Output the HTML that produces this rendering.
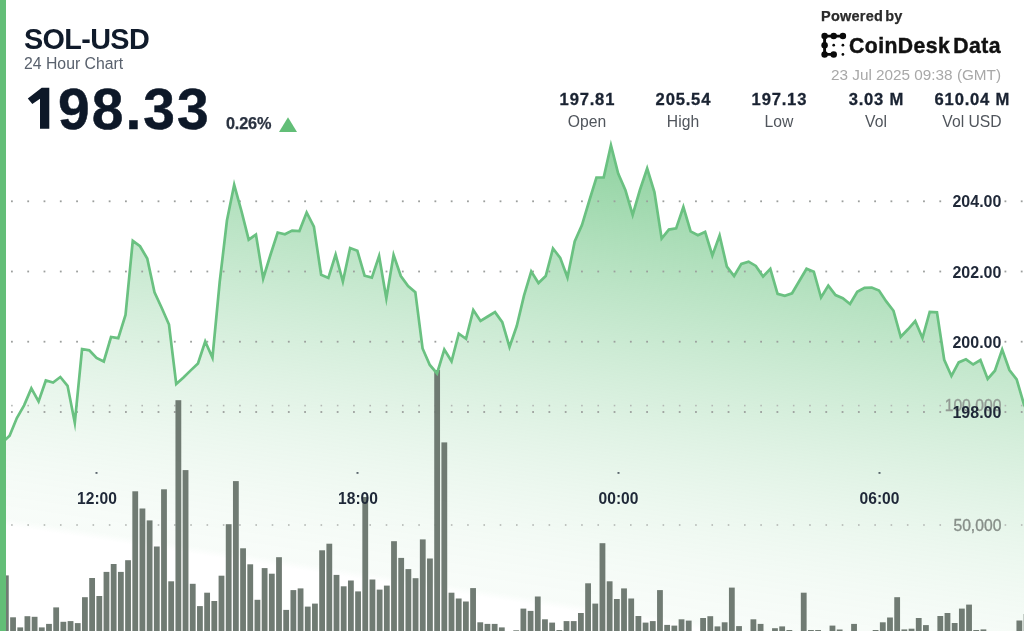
<!DOCTYPE html>
<html><head><meta charset="utf-8"><title>SOL-USD 24 Hour Chart</title>
<style>
html,body{margin:0;padding:0;background:#fff;}
body{width:1024px;height:631px;overflow:hidden;position:relative;font-family:"Liberation Sans",sans-serif;color:#101b2b;}
.abs{position:absolute;white-space:nowrap;line-height:1;will-change:transform;filter:blur(0.5px);}
#leftbar{filter:none;}
#leftbar{left:0;top:0;width:5.9px;height:631px;background:#63be77;}
#pair{left:23.8px;top:25.0px;font-size:28.8px;font-weight:bold;letter-spacing:-0.65px;}
#sub{left:23.7px;top:55.6px;font-size:15.8px;color:#59616d;}
#price{left:57.6px;top:80.5px;font-size:57px;font-weight:bold;letter-spacing:2.0px;color:#0d1828;-webkit-text-stroke:0.5px #0d1828;}
#chg{left:225.6px;top:114.9px;font-size:16.3px;font-weight:bold;color:#2a3240;letter-spacing:-0.2px;-webkit-text-stroke:0.25px #2a3240;}
#pow{left:820.7px;top:9px;font-size:14.5px;font-weight:bold;color:#2b2b2b;letter-spacing:0.25px;word-spacing:-2.3px;-webkit-text-stroke:0.25px #2b2b2b;}
#brand{left:849.3px;top:34.7px;font-size:21.2px;font-weight:bold;color:#111;letter-spacing:0.45px;-webkit-text-stroke:0.45px #111;}
#date{left:831px;top:67px;font-size:15.3px;color:#a8a8a8;}
.stat{width:120px;text-align:center;}
.stat b{display:block;font-size:16.6px;line-height:1;color:#1a2332;letter-spacing:0.8px;margin-right:-0.8px;-webkit-text-stroke:0.3px #1a2332;}
.stat span{display:block;font-size:15.7px;line-height:1;margin-top:5.5px;color:#50555c;}
svg{position:absolute;left:0;top:0;will-change:transform;}
svg text{font-family:"Liberation Sans",sans-serif;}
</style></head><body>
<svg width="1024" height="631" viewBox="0 0 1024 631">
<defs>
<linearGradient id="g" gradientUnits="userSpaceOnUse" x1="560" y1="140" x2="491.2" y2="598.7">
<stop offset="0.000" stop-color="#5fbf77" stop-opacity="0.700"/><stop offset="0.050" stop-color="#5fbf77" stop-opacity="0.648"/><stop offset="0.100" stop-color="#5fbf77" stop-opacity="0.598"/><stop offset="0.150" stop-color="#5fbf77" stop-opacity="0.550"/><stop offset="0.200" stop-color="#5fbf77" stop-opacity="0.503"/><stop offset="0.250" stop-color="#5fbf77" stop-opacity="0.458"/><stop offset="0.300" stop-color="#5fbf77" stop-opacity="0.415"/><stop offset="0.350" stop-color="#5fbf77" stop-opacity="0.374"/><stop offset="0.400" stop-color="#5fbf77" stop-opacity="0.334"/><stop offset="0.450" stop-color="#5fbf77" stop-opacity="0.297"/><stop offset="0.500" stop-color="#5fbf77" stop-opacity="0.261"/><stop offset="0.550" stop-color="#5fbf77" stop-opacity="0.228"/><stop offset="0.600" stop-color="#5fbf77" stop-opacity="0.196"/><stop offset="0.650" stop-color="#5fbf77" stop-opacity="0.167"/><stop offset="0.700" stop-color="#5fbf77" stop-opacity="0.140"/><stop offset="0.750" stop-color="#5fbf77" stop-opacity="0.116"/><stop offset="0.800" stop-color="#5fbf77" stop-opacity="0.095"/><stop offset="0.850" stop-color="#5fbf77" stop-opacity="0.076"/><stop offset="0.900" stop-color="#5fbf77" stop-opacity="0.061"/><stop offset="0.950" stop-color="#5fbf77" stop-opacity="0.050"/><stop offset="0.985" stop-color="#5fbf77" stop-opacity="0.045"/><stop offset="1" stop-color="#5fbf77" stop-opacity="0"/>
</linearGradient>
</defs>
<g style="filter:blur(0.55px)">
<path d="M2.35,442.60 L9.60,435.80 L16.84,418.00 L24.09,405.30 L31.34,388.40 L38.58,401.50 L45.83,380.50 L53.07,382.50 L60.32,377.00 L67.56,385.80 L74.80,422.80 L82.05,349.00 L89.30,350.30 L96.54,358.00 L103.78,361.50 L111.03,337.00 L118.27,338.20 L125.52,315.00 L132.77,240.80 L140.01,246.20 L147.25,258.50 L154.50,292.40 L161.75,308.00 L168.99,324.50 L176.23,384.00 L183.48,377.50 L190.72,370.40 L197.97,363.50 L205.22,341.50 L212.46,357.70 L219.70,282.00 L226.95,220.50 L234.19,184.80 L241.44,211.00 L248.69,239.70 L255.93,234.60 L263.18,278.50 L270.42,255.00 L277.67,232.50 L284.91,234.20 L292.16,230.60 L299.40,231.00 L306.65,212.50 L313.89,226.60 L321.14,274.80 L328.38,278.00 L335.62,254.50 L342.87,281.50 L350.12,248.00 L357.36,250.80 L364.61,275.70 L371.85,277.60 L379.10,256.00 L386.34,298.50 L393.59,255.00 L400.83,276.00 L408.08,286.00 L415.32,292.20 L422.57,348.50 L429.81,365.00 L437.06,373.50 L444.30,349.60 L451.55,361.30 L458.79,333.70 L466.04,338.80 L473.28,310.00 L480.53,321.00 L487.77,316.50 L495.02,312.10 L502.26,322.20 L509.51,347.00 L516.75,326.00 L524.00,295.60 L531.24,271.50 L538.49,283.00 L545.73,276.00 L552.98,248.50 L560.22,257.80 L567.47,277.50 L574.71,241.50 L581.96,225.10 L589.20,201.00 L596.45,177.50 L603.69,177.50 L610.94,145.20 L618.18,173.50 L625.43,190.30 L632.67,215.00 L639.92,190.00 L647.16,168.50 L654.41,192.10 L661.65,238.50 L668.89,229.60 L676.14,228.40 L683.38,207.00 L690.63,231.40 L697.88,235.20 L705.12,231.90 L712.37,255.50 L719.61,235.50 L726.86,266.60 L734.10,276.00 L741.35,263.90 L748.59,261.60 L755.84,265.90 L763.08,276.50 L770.33,268.80 L777.57,293.80 L784.82,295.80 L792.06,293.30 L799.31,281.00 L806.55,268.80 L813.80,271.70 L821.04,297.50 L828.29,285.60 L835.53,295.10 L842.78,298.20 L850.02,304.00 L857.26,291.80 L864.51,287.80 L871.75,287.50 L879.00,290.50 L886.25,301.40 L893.49,310.80 L900.74,336.80 L907.98,329.30 L915.23,321.00 L922.47,338.00 L929.72,312.00 L936.96,312.40 L944.21,359.80 L951.45,376.00 L958.70,362.40 L965.94,359.30 L973.19,364.50 L980.43,360.00 L987.68,379.00 L994.92,370.70 L1002.17,349.50 L1009.41,370.00 L1016.66,379.40 L1023.90,404.20 L1031.14,420.00 L1031.14,640 L2.35,640 Z" fill="url(#g)"/>
<g fill="#9c9f9d"><rect x="11.00" y="200.40" width="1.8" height="1.8"/><rect x="27.29" y="200.40" width="1.8" height="1.8"/><rect x="43.57" y="200.40" width="1.8" height="1.8"/><rect x="59.86" y="200.40" width="1.8" height="1.8"/><rect x="76.15" y="200.40" width="1.8" height="1.8"/><rect x="92.44" y="200.40" width="1.8" height="1.8"/><rect x="108.72" y="200.40" width="1.8" height="1.8"/><rect x="125.01" y="200.40" width="1.8" height="1.8"/><rect x="141.30" y="200.40" width="1.8" height="1.8"/><rect x="157.58" y="200.40" width="1.8" height="1.8"/><rect x="173.87" y="200.40" width="1.8" height="1.8"/><rect x="190.16" y="200.40" width="1.8" height="1.8"/><rect x="206.44" y="200.40" width="1.8" height="1.8"/><rect x="222.73" y="200.40" width="1.8" height="1.8"/><rect x="239.02" y="200.40" width="1.8" height="1.8"/><rect x="255.30" y="200.40" width="1.8" height="1.8"/><rect x="271.59" y="200.40" width="1.8" height="1.8"/><rect x="287.88" y="200.40" width="1.8" height="1.8"/><rect x="304.17" y="200.40" width="1.8" height="1.8"/><rect x="320.45" y="200.40" width="1.8" height="1.8"/><rect x="336.74" y="200.40" width="1.8" height="1.8"/><rect x="353.03" y="200.40" width="1.8" height="1.8"/><rect x="369.31" y="200.40" width="1.8" height="1.8"/><rect x="385.60" y="200.40" width="1.8" height="1.8"/><rect x="401.89" y="200.40" width="1.8" height="1.8"/><rect x="418.17" y="200.40" width="1.8" height="1.8"/><rect x="434.46" y="200.40" width="1.8" height="1.8"/><rect x="450.75" y="200.40" width="1.8" height="1.8"/><rect x="467.04" y="200.40" width="1.8" height="1.8"/><rect x="483.32" y="200.40" width="1.8" height="1.8"/><rect x="499.61" y="200.40" width="1.8" height="1.8"/><rect x="515.90" y="200.40" width="1.8" height="1.8"/><rect x="532.18" y="200.40" width="1.8" height="1.8"/><rect x="548.47" y="200.40" width="1.8" height="1.8"/><rect x="564.76" y="200.40" width="1.8" height="1.8"/><rect x="581.04" y="200.40" width="1.8" height="1.8"/><rect x="597.33" y="200.40" width="1.8" height="1.8"/><rect x="613.62" y="200.40" width="1.8" height="1.8"/><rect x="629.91" y="200.40" width="1.8" height="1.8"/><rect x="646.19" y="200.40" width="1.8" height="1.8"/><rect x="662.48" y="200.40" width="1.8" height="1.8"/><rect x="678.77" y="200.40" width="1.8" height="1.8"/><rect x="695.05" y="200.40" width="1.8" height="1.8"/><rect x="711.34" y="200.40" width="1.8" height="1.8"/><rect x="727.63" y="200.40" width="1.8" height="1.8"/><rect x="743.91" y="200.40" width="1.8" height="1.8"/><rect x="760.20" y="200.40" width="1.8" height="1.8"/><rect x="776.49" y="200.40" width="1.8" height="1.8"/><rect x="792.78" y="200.40" width="1.8" height="1.8"/><rect x="809.06" y="200.40" width="1.8" height="1.8"/><rect x="825.35" y="200.40" width="1.8" height="1.8"/><rect x="841.64" y="200.40" width="1.8" height="1.8"/><rect x="857.92" y="200.40" width="1.8" height="1.8"/><rect x="874.21" y="200.40" width="1.8" height="1.8"/><rect x="890.50" y="200.40" width="1.8" height="1.8"/><rect x="906.78" y="200.40" width="1.8" height="1.8"/><rect x="923.07" y="200.40" width="1.8" height="1.8"/><rect x="939.36" y="200.40" width="1.8" height="1.8"/><rect x="1004.51" y="200.40" width="1.8" height="1.8"/><rect x="1020.79" y="200.40" width="1.8" height="1.8"/></g><g fill="#9c9f9d"><rect x="11.00" y="270.60" width="1.8" height="1.8"/><rect x="27.29" y="270.60" width="1.8" height="1.8"/><rect x="43.57" y="270.60" width="1.8" height="1.8"/><rect x="59.86" y="270.60" width="1.8" height="1.8"/><rect x="76.15" y="270.60" width="1.8" height="1.8"/><rect x="92.44" y="270.60" width="1.8" height="1.8"/><rect x="108.72" y="270.60" width="1.8" height="1.8"/><rect x="125.01" y="270.60" width="1.8" height="1.8"/><rect x="141.30" y="270.60" width="1.8" height="1.8"/><rect x="157.58" y="270.60" width="1.8" height="1.8"/><rect x="173.87" y="270.60" width="1.8" height="1.8"/><rect x="190.16" y="270.60" width="1.8" height="1.8"/><rect x="206.44" y="270.60" width="1.8" height="1.8"/><rect x="222.73" y="270.60" width="1.8" height="1.8"/><rect x="239.02" y="270.60" width="1.8" height="1.8"/><rect x="255.30" y="270.60" width="1.8" height="1.8"/><rect x="271.59" y="270.60" width="1.8" height="1.8"/><rect x="287.88" y="270.60" width="1.8" height="1.8"/><rect x="304.17" y="270.60" width="1.8" height="1.8"/><rect x="320.45" y="270.60" width="1.8" height="1.8"/><rect x="336.74" y="270.60" width="1.8" height="1.8"/><rect x="353.03" y="270.60" width="1.8" height="1.8"/><rect x="369.31" y="270.60" width="1.8" height="1.8"/><rect x="385.60" y="270.60" width="1.8" height="1.8"/><rect x="401.89" y="270.60" width="1.8" height="1.8"/><rect x="418.17" y="270.60" width="1.8" height="1.8"/><rect x="434.46" y="270.60" width="1.8" height="1.8"/><rect x="450.75" y="270.60" width="1.8" height="1.8"/><rect x="467.04" y="270.60" width="1.8" height="1.8"/><rect x="483.32" y="270.60" width="1.8" height="1.8"/><rect x="499.61" y="270.60" width="1.8" height="1.8"/><rect x="515.90" y="270.60" width="1.8" height="1.8"/><rect x="532.18" y="270.60" width="1.8" height="1.8"/><rect x="548.47" y="270.60" width="1.8" height="1.8"/><rect x="564.76" y="270.60" width="1.8" height="1.8"/><rect x="581.04" y="270.60" width="1.8" height="1.8"/><rect x="597.33" y="270.60" width="1.8" height="1.8"/><rect x="613.62" y="270.60" width="1.8" height="1.8"/><rect x="629.91" y="270.60" width="1.8" height="1.8"/><rect x="646.19" y="270.60" width="1.8" height="1.8"/><rect x="662.48" y="270.60" width="1.8" height="1.8"/><rect x="678.77" y="270.60" width="1.8" height="1.8"/><rect x="695.05" y="270.60" width="1.8" height="1.8"/><rect x="711.34" y="270.60" width="1.8" height="1.8"/><rect x="727.63" y="270.60" width="1.8" height="1.8"/><rect x="743.91" y="270.60" width="1.8" height="1.8"/><rect x="760.20" y="270.60" width="1.8" height="1.8"/><rect x="776.49" y="270.60" width="1.8" height="1.8"/><rect x="792.78" y="270.60" width="1.8" height="1.8"/><rect x="809.06" y="270.60" width="1.8" height="1.8"/><rect x="825.35" y="270.60" width="1.8" height="1.8"/><rect x="841.64" y="270.60" width="1.8" height="1.8"/><rect x="857.92" y="270.60" width="1.8" height="1.8"/><rect x="874.21" y="270.60" width="1.8" height="1.8"/><rect x="890.50" y="270.60" width="1.8" height="1.8"/><rect x="906.78" y="270.60" width="1.8" height="1.8"/><rect x="923.07" y="270.60" width="1.8" height="1.8"/><rect x="939.36" y="270.60" width="1.8" height="1.8"/><rect x="1004.51" y="270.60" width="1.8" height="1.8"/><rect x="1020.79" y="270.60" width="1.8" height="1.8"/></g><g fill="#9c9f9d"><rect x="11.00" y="340.80" width="1.8" height="1.8"/><rect x="27.29" y="340.80" width="1.8" height="1.8"/><rect x="43.57" y="340.80" width="1.8" height="1.8"/><rect x="59.86" y="340.80" width="1.8" height="1.8"/><rect x="76.15" y="340.80" width="1.8" height="1.8"/><rect x="92.44" y="340.80" width="1.8" height="1.8"/><rect x="108.72" y="340.80" width="1.8" height="1.8"/><rect x="125.01" y="340.80" width="1.8" height="1.8"/><rect x="141.30" y="340.80" width="1.8" height="1.8"/><rect x="157.58" y="340.80" width="1.8" height="1.8"/><rect x="173.87" y="340.80" width="1.8" height="1.8"/><rect x="190.16" y="340.80" width="1.8" height="1.8"/><rect x="206.44" y="340.80" width="1.8" height="1.8"/><rect x="222.73" y="340.80" width="1.8" height="1.8"/><rect x="239.02" y="340.80" width="1.8" height="1.8"/><rect x="255.30" y="340.80" width="1.8" height="1.8"/><rect x="271.59" y="340.80" width="1.8" height="1.8"/><rect x="287.88" y="340.80" width="1.8" height="1.8"/><rect x="304.17" y="340.80" width="1.8" height="1.8"/><rect x="320.45" y="340.80" width="1.8" height="1.8"/><rect x="336.74" y="340.80" width="1.8" height="1.8"/><rect x="353.03" y="340.80" width="1.8" height="1.8"/><rect x="369.31" y="340.80" width="1.8" height="1.8"/><rect x="385.60" y="340.80" width="1.8" height="1.8"/><rect x="401.89" y="340.80" width="1.8" height="1.8"/><rect x="418.17" y="340.80" width="1.8" height="1.8"/><rect x="434.46" y="340.80" width="1.8" height="1.8"/><rect x="450.75" y="340.80" width="1.8" height="1.8"/><rect x="467.04" y="340.80" width="1.8" height="1.8"/><rect x="483.32" y="340.80" width="1.8" height="1.8"/><rect x="499.61" y="340.80" width="1.8" height="1.8"/><rect x="515.90" y="340.80" width="1.8" height="1.8"/><rect x="532.18" y="340.80" width="1.8" height="1.8"/><rect x="548.47" y="340.80" width="1.8" height="1.8"/><rect x="564.76" y="340.80" width="1.8" height="1.8"/><rect x="581.04" y="340.80" width="1.8" height="1.8"/><rect x="597.33" y="340.80" width="1.8" height="1.8"/><rect x="613.62" y="340.80" width="1.8" height="1.8"/><rect x="629.91" y="340.80" width="1.8" height="1.8"/><rect x="646.19" y="340.80" width="1.8" height="1.8"/><rect x="662.48" y="340.80" width="1.8" height="1.8"/><rect x="678.77" y="340.80" width="1.8" height="1.8"/><rect x="695.05" y="340.80" width="1.8" height="1.8"/><rect x="711.34" y="340.80" width="1.8" height="1.8"/><rect x="727.63" y="340.80" width="1.8" height="1.8"/><rect x="743.91" y="340.80" width="1.8" height="1.8"/><rect x="760.20" y="340.80" width="1.8" height="1.8"/><rect x="776.49" y="340.80" width="1.8" height="1.8"/><rect x="792.78" y="340.80" width="1.8" height="1.8"/><rect x="809.06" y="340.80" width="1.8" height="1.8"/><rect x="825.35" y="340.80" width="1.8" height="1.8"/><rect x="841.64" y="340.80" width="1.8" height="1.8"/><rect x="857.92" y="340.80" width="1.8" height="1.8"/><rect x="874.21" y="340.80" width="1.8" height="1.8"/><rect x="890.50" y="340.80" width="1.8" height="1.8"/><rect x="906.78" y="340.80" width="1.8" height="1.8"/><rect x="923.07" y="340.80" width="1.8" height="1.8"/><rect x="939.36" y="340.80" width="1.8" height="1.8"/><rect x="1004.51" y="340.80" width="1.8" height="1.8"/><rect x="1020.79" y="340.80" width="1.8" height="1.8"/></g><g fill="#9c9f9d"><rect x="11.00" y="411.10" width="1.8" height="1.8"/><rect x="27.29" y="411.10" width="1.8" height="1.8"/><rect x="43.57" y="411.10" width="1.8" height="1.8"/><rect x="59.86" y="411.10" width="1.8" height="1.8"/><rect x="76.15" y="411.10" width="1.8" height="1.8"/><rect x="92.44" y="411.10" width="1.8" height="1.8"/><rect x="108.72" y="411.10" width="1.8" height="1.8"/><rect x="125.01" y="411.10" width="1.8" height="1.8"/><rect x="141.30" y="411.10" width="1.8" height="1.8"/><rect x="157.58" y="411.10" width="1.8" height="1.8"/><rect x="173.87" y="411.10" width="1.8" height="1.8"/><rect x="190.16" y="411.10" width="1.8" height="1.8"/><rect x="206.44" y="411.10" width="1.8" height="1.8"/><rect x="222.73" y="411.10" width="1.8" height="1.8"/><rect x="239.02" y="411.10" width="1.8" height="1.8"/><rect x="255.30" y="411.10" width="1.8" height="1.8"/><rect x="271.59" y="411.10" width="1.8" height="1.8"/><rect x="287.88" y="411.10" width="1.8" height="1.8"/><rect x="304.17" y="411.10" width="1.8" height="1.8"/><rect x="320.45" y="411.10" width="1.8" height="1.8"/><rect x="336.74" y="411.10" width="1.8" height="1.8"/><rect x="353.03" y="411.10" width="1.8" height="1.8"/><rect x="369.31" y="411.10" width="1.8" height="1.8"/><rect x="385.60" y="411.10" width="1.8" height="1.8"/><rect x="401.89" y="411.10" width="1.8" height="1.8"/><rect x="418.17" y="411.10" width="1.8" height="1.8"/><rect x="434.46" y="411.10" width="1.8" height="1.8"/><rect x="450.75" y="411.10" width="1.8" height="1.8"/><rect x="467.04" y="411.10" width="1.8" height="1.8"/><rect x="483.32" y="411.10" width="1.8" height="1.8"/><rect x="499.61" y="411.10" width="1.8" height="1.8"/><rect x="515.90" y="411.10" width="1.8" height="1.8"/><rect x="532.18" y="411.10" width="1.8" height="1.8"/><rect x="548.47" y="411.10" width="1.8" height="1.8"/><rect x="564.76" y="411.10" width="1.8" height="1.8"/><rect x="581.04" y="411.10" width="1.8" height="1.8"/><rect x="597.33" y="411.10" width="1.8" height="1.8"/><rect x="613.62" y="411.10" width="1.8" height="1.8"/><rect x="629.91" y="411.10" width="1.8" height="1.8"/><rect x="646.19" y="411.10" width="1.8" height="1.8"/><rect x="662.48" y="411.10" width="1.8" height="1.8"/><rect x="678.77" y="411.10" width="1.8" height="1.8"/><rect x="695.05" y="411.10" width="1.8" height="1.8"/><rect x="711.34" y="411.10" width="1.8" height="1.8"/><rect x="727.63" y="411.10" width="1.8" height="1.8"/><rect x="743.91" y="411.10" width="1.8" height="1.8"/><rect x="760.20" y="411.10" width="1.8" height="1.8"/><rect x="776.49" y="411.10" width="1.8" height="1.8"/><rect x="792.78" y="411.10" width="1.8" height="1.8"/><rect x="809.06" y="411.10" width="1.8" height="1.8"/><rect x="825.35" y="411.10" width="1.8" height="1.8"/><rect x="841.64" y="411.10" width="1.8" height="1.8"/><rect x="857.92" y="411.10" width="1.8" height="1.8"/><rect x="874.21" y="411.10" width="1.8" height="1.8"/><rect x="890.50" y="411.10" width="1.8" height="1.8"/><rect x="906.78" y="411.10" width="1.8" height="1.8"/><rect x="923.07" y="411.10" width="1.8" height="1.8"/><rect x="939.36" y="411.10" width="1.8" height="1.8"/><rect x="1004.51" y="411.10" width="1.8" height="1.8"/><rect x="1020.79" y="411.10" width="1.8" height="1.8"/></g><g fill="#b3b7b4"><rect x="11.10" y="404.80" width="1.6" height="1.6"/><rect x="27.39" y="404.80" width="1.6" height="1.6"/><rect x="43.67" y="404.80" width="1.6" height="1.6"/><rect x="59.96" y="404.80" width="1.6" height="1.6"/><rect x="76.25" y="404.80" width="1.6" height="1.6"/><rect x="92.54" y="404.80" width="1.6" height="1.6"/><rect x="108.82" y="404.80" width="1.6" height="1.6"/><rect x="125.11" y="404.80" width="1.6" height="1.6"/><rect x="141.40" y="404.80" width="1.6" height="1.6"/><rect x="157.68" y="404.80" width="1.6" height="1.6"/><rect x="173.97" y="404.80" width="1.6" height="1.6"/><rect x="190.26" y="404.80" width="1.6" height="1.6"/><rect x="206.54" y="404.80" width="1.6" height="1.6"/><rect x="222.83" y="404.80" width="1.6" height="1.6"/><rect x="239.12" y="404.80" width="1.6" height="1.6"/><rect x="255.40" y="404.80" width="1.6" height="1.6"/><rect x="271.69" y="404.80" width="1.6" height="1.6"/><rect x="287.98" y="404.80" width="1.6" height="1.6"/><rect x="304.27" y="404.80" width="1.6" height="1.6"/><rect x="320.55" y="404.80" width="1.6" height="1.6"/><rect x="336.84" y="404.80" width="1.6" height="1.6"/><rect x="353.13" y="404.80" width="1.6" height="1.6"/><rect x="369.41" y="404.80" width="1.6" height="1.6"/><rect x="385.70" y="404.80" width="1.6" height="1.6"/><rect x="401.99" y="404.80" width="1.6" height="1.6"/><rect x="418.27" y="404.80" width="1.6" height="1.6"/><rect x="434.56" y="404.80" width="1.6" height="1.6"/><rect x="450.85" y="404.80" width="1.6" height="1.6"/><rect x="467.14" y="404.80" width="1.6" height="1.6"/><rect x="483.42" y="404.80" width="1.6" height="1.6"/><rect x="499.71" y="404.80" width="1.6" height="1.6"/><rect x="516.00" y="404.80" width="1.6" height="1.6"/><rect x="532.28" y="404.80" width="1.6" height="1.6"/><rect x="548.57" y="404.80" width="1.6" height="1.6"/><rect x="564.86" y="404.80" width="1.6" height="1.6"/><rect x="581.14" y="404.80" width="1.6" height="1.6"/><rect x="597.43" y="404.80" width="1.6" height="1.6"/><rect x="613.72" y="404.80" width="1.6" height="1.6"/><rect x="630.01" y="404.80" width="1.6" height="1.6"/><rect x="646.29" y="404.80" width="1.6" height="1.6"/><rect x="662.58" y="404.80" width="1.6" height="1.6"/><rect x="678.87" y="404.80" width="1.6" height="1.6"/><rect x="695.15" y="404.80" width="1.6" height="1.6"/><rect x="711.44" y="404.80" width="1.6" height="1.6"/><rect x="727.73" y="404.80" width="1.6" height="1.6"/><rect x="744.01" y="404.80" width="1.6" height="1.6"/><rect x="760.30" y="404.80" width="1.6" height="1.6"/><rect x="776.59" y="404.80" width="1.6" height="1.6"/><rect x="792.88" y="404.80" width="1.6" height="1.6"/><rect x="809.16" y="404.80" width="1.6" height="1.6"/><rect x="825.45" y="404.80" width="1.6" height="1.6"/><rect x="841.74" y="404.80" width="1.6" height="1.6"/><rect x="858.02" y="404.80" width="1.6" height="1.6"/><rect x="874.31" y="404.80" width="1.6" height="1.6"/><rect x="890.60" y="404.80" width="1.6" height="1.6"/><rect x="906.88" y="404.80" width="1.6" height="1.6"/><rect x="923.17" y="404.80" width="1.6" height="1.6"/><rect x="939.46" y="404.80" width="1.6" height="1.6"/><rect x="1004.61" y="404.80" width="1.6" height="1.6"/><rect x="1020.89" y="404.80" width="1.6" height="1.6"/></g><g fill="#b3b7b4"><rect x="11.10" y="524.20" width="1.6" height="1.6"/><rect x="27.39" y="524.20" width="1.6" height="1.6"/><rect x="43.67" y="524.20" width="1.6" height="1.6"/><rect x="59.96" y="524.20" width="1.6" height="1.6"/><rect x="76.25" y="524.20" width="1.6" height="1.6"/><rect x="92.54" y="524.20" width="1.6" height="1.6"/><rect x="108.82" y="524.20" width="1.6" height="1.6"/><rect x="125.11" y="524.20" width="1.6" height="1.6"/><rect x="141.40" y="524.20" width="1.6" height="1.6"/><rect x="157.68" y="524.20" width="1.6" height="1.6"/><rect x="173.97" y="524.20" width="1.6" height="1.6"/><rect x="190.26" y="524.20" width="1.6" height="1.6"/><rect x="206.54" y="524.20" width="1.6" height="1.6"/><rect x="222.83" y="524.20" width="1.6" height="1.6"/><rect x="239.12" y="524.20" width="1.6" height="1.6"/><rect x="255.40" y="524.20" width="1.6" height="1.6"/><rect x="271.69" y="524.20" width="1.6" height="1.6"/><rect x="287.98" y="524.20" width="1.6" height="1.6"/><rect x="304.27" y="524.20" width="1.6" height="1.6"/><rect x="320.55" y="524.20" width="1.6" height="1.6"/><rect x="336.84" y="524.20" width="1.6" height="1.6"/><rect x="353.13" y="524.20" width="1.6" height="1.6"/><rect x="369.41" y="524.20" width="1.6" height="1.6"/><rect x="385.70" y="524.20" width="1.6" height="1.6"/><rect x="401.99" y="524.20" width="1.6" height="1.6"/><rect x="418.27" y="524.20" width="1.6" height="1.6"/><rect x="434.56" y="524.20" width="1.6" height="1.6"/><rect x="450.85" y="524.20" width="1.6" height="1.6"/><rect x="467.14" y="524.20" width="1.6" height="1.6"/><rect x="483.42" y="524.20" width="1.6" height="1.6"/><rect x="499.71" y="524.20" width="1.6" height="1.6"/><rect x="516.00" y="524.20" width="1.6" height="1.6"/><rect x="532.28" y="524.20" width="1.6" height="1.6"/><rect x="548.57" y="524.20" width="1.6" height="1.6"/><rect x="564.86" y="524.20" width="1.6" height="1.6"/><rect x="581.14" y="524.20" width="1.6" height="1.6"/><rect x="597.43" y="524.20" width="1.6" height="1.6"/><rect x="613.72" y="524.20" width="1.6" height="1.6"/><rect x="630.01" y="524.20" width="1.6" height="1.6"/><rect x="646.29" y="524.20" width="1.6" height="1.6"/><rect x="662.58" y="524.20" width="1.6" height="1.6"/><rect x="678.87" y="524.20" width="1.6" height="1.6"/><rect x="695.15" y="524.20" width="1.6" height="1.6"/><rect x="711.44" y="524.20" width="1.6" height="1.6"/><rect x="727.73" y="524.20" width="1.6" height="1.6"/><rect x="744.01" y="524.20" width="1.6" height="1.6"/><rect x="760.30" y="524.20" width="1.6" height="1.6"/><rect x="776.59" y="524.20" width="1.6" height="1.6"/><rect x="792.88" y="524.20" width="1.6" height="1.6"/><rect x="809.16" y="524.20" width="1.6" height="1.6"/><rect x="825.45" y="524.20" width="1.6" height="1.6"/><rect x="841.74" y="524.20" width="1.6" height="1.6"/><rect x="858.02" y="524.20" width="1.6" height="1.6"/><rect x="874.31" y="524.20" width="1.6" height="1.6"/><rect x="890.60" y="524.20" width="1.6" height="1.6"/><rect x="906.88" y="524.20" width="1.6" height="1.6"/><rect x="923.17" y="524.20" width="1.6" height="1.6"/><rect x="939.46" y="524.20" width="1.6" height="1.6"/><rect x="1004.61" y="524.20" width="1.6" height="1.6"/><rect x="1020.89" y="524.20" width="1.6" height="1.6"/></g>
<g fill="#6a766d" fill-opacity="0.96">
<rect x="2.95" y="575.4" width="5.8" height="64.6"/>
<rect x="10.14" y="617.3" width="5.8" height="22.7"/>
<rect x="17.33" y="627.4" width="5.8" height="12.6"/>
<rect x="24.52" y="616.2" width="5.8" height="23.8"/>
<rect x="31.70" y="616.8" width="5.8" height="23.2"/>
<rect x="38.89" y="627.4" width="5.8" height="12.6"/>
<rect x="46.08" y="623.9" width="5.8" height="16.1"/>
<rect x="53.27" y="607.4" width="5.8" height="32.6"/>
<rect x="60.46" y="621.8" width="5.8" height="18.2"/>
<rect x="67.64" y="621.1" width="5.8" height="18.9"/>
<rect x="74.83" y="623.1" width="5.8" height="16.9"/>
<rect x="82.02" y="597.2" width="5.8" height="42.8"/>
<rect x="89.21" y="578.0" width="5.8" height="62.0"/>
<rect x="96.40" y="596.0" width="5.8" height="44.0"/>
<rect x="103.58" y="571.9" width="5.8" height="68.1"/>
<rect x="110.77" y="564.0" width="5.8" height="76.0"/>
<rect x="117.96" y="571.9" width="5.8" height="68.1"/>
<rect x="125.15" y="560.2" width="5.8" height="79.8"/>
<rect x="132.34" y="491.3" width="5.8" height="148.7"/>
<rect x="139.52" y="508.5" width="5.8" height="131.5"/>
<rect x="146.71" y="520.4" width="5.8" height="119.6"/>
<rect x="153.90" y="546.5" width="5.8" height="93.5"/>
<rect x="161.09" y="489.3" width="5.8" height="150.7"/>
<rect x="168.28" y="581.3" width="5.8" height="58.7"/>
<rect x="175.46" y="400.2" width="5.8" height="239.8"/>
<rect x="182.65" y="470.1" width="5.8" height="169.9"/>
<rect x="189.84" y="583.8" width="5.8" height="56.2"/>
<rect x="197.03" y="606.1" width="5.8" height="33.9"/>
<rect x="204.22" y="592.7" width="5.8" height="47.3"/>
<rect x="211.40" y="601.0" width="5.8" height="39.0"/>
<rect x="218.59" y="575.7" width="5.8" height="64.3"/>
<rect x="225.78" y="524.2" width="5.8" height="115.8"/>
<rect x="232.97" y="481.1" width="5.8" height="158.9"/>
<rect x="240.16" y="548.3" width="5.8" height="91.7"/>
<rect x="247.34" y="564.3" width="5.8" height="75.7"/>
<rect x="254.53" y="599.8" width="5.8" height="40.2"/>
<rect x="261.72" y="568.1" width="5.8" height="71.9"/>
<rect x="268.91" y="573.7" width="5.8" height="66.3"/>
<rect x="276.10" y="557.2" width="5.8" height="82.8"/>
<rect x="283.28" y="609.9" width="5.8" height="30.1"/>
<rect x="290.47" y="590.1" width="5.8" height="49.9"/>
<rect x="297.66" y="588.4" width="5.8" height="51.6"/>
<rect x="304.85" y="606.6" width="5.8" height="33.4"/>
<rect x="312.04" y="603.6" width="5.8" height="36.4"/>
<rect x="319.22" y="550.3" width="5.8" height="89.7"/>
<rect x="326.41" y="543.7" width="5.8" height="96.3"/>
<rect x="333.60" y="574.9" width="5.8" height="65.1"/>
<rect x="340.79" y="586.3" width="5.8" height="53.7"/>
<rect x="347.98" y="580.5" width="5.8" height="59.5"/>
<rect x="355.16" y="591.4" width="5.8" height="48.6"/>
<rect x="362.35" y="497.0" width="5.8" height="143.0"/>
<rect x="369.54" y="579.5" width="5.8" height="60.5"/>
<rect x="376.73" y="589.6" width="5.8" height="50.4"/>
<rect x="383.92" y="585.6" width="5.8" height="54.4"/>
<rect x="391.10" y="541.2" width="5.8" height="98.8"/>
<rect x="398.29" y="557.9" width="5.8" height="82.1"/>
<rect x="405.48" y="569.1" width="5.8" height="70.9"/>
<rect x="412.67" y="578.2" width="5.8" height="61.8"/>
<rect x="419.86" y="539.4" width="5.8" height="100.6"/>
<rect x="427.04" y="558.5" width="5.8" height="81.5"/>
<rect x="434.23" y="370.0" width="5.8" height="270.0"/>
<rect x="441.42" y="442.4" width="5.8" height="197.6"/>
<rect x="448.61" y="592.7" width="5.8" height="47.3"/>
<rect x="455.80" y="598.5" width="5.8" height="41.5"/>
<rect x="462.98" y="601.5" width="5.8" height="38.5"/>
<rect x="470.17" y="588.1" width="5.8" height="51.9"/>
<rect x="477.36" y="622.3" width="5.8" height="17.7"/>
<rect x="484.55" y="623.9" width="5.8" height="16.1"/>
<rect x="491.74" y="623.9" width="5.8" height="16.1"/>
<rect x="498.92" y="627.4" width="5.8" height="12.6"/>
<rect x="513.30" y="630.3" width="5.8" height="9.7"/>
<rect x="520.49" y="608.6" width="5.8" height="31.4"/>
<rect x="527.68" y="610.9" width="5.8" height="29.1"/>
<rect x="534.86" y="596.5" width="5.8" height="43.5"/>
<rect x="542.05" y="619.3" width="5.8" height="20.7"/>
<rect x="549.24" y="622.6" width="5.8" height="17.4"/>
<rect x="556.43" y="630.0" width="5.8" height="10.0"/>
<rect x="563.62" y="621.1" width="5.8" height="18.9"/>
<rect x="570.80" y="621.1" width="5.8" height="18.9"/>
<rect x="577.99" y="613.0" width="5.8" height="27.0"/>
<rect x="585.18" y="583.3" width="5.8" height="56.7"/>
<rect x="592.37" y="603.6" width="5.8" height="36.4"/>
<rect x="599.56" y="543.2" width="5.8" height="96.8"/>
<rect x="606.74" y="581.3" width="5.8" height="58.7"/>
<rect x="613.93" y="599.0" width="5.8" height="41.0"/>
<rect x="621.12" y="588.4" width="5.8" height="51.6"/>
<rect x="628.31" y="598.5" width="5.8" height="41.5"/>
<rect x="635.50" y="616.0" width="5.8" height="24.0"/>
<rect x="642.68" y="622.6" width="5.8" height="17.4"/>
<rect x="649.87" y="621.1" width="5.8" height="18.9"/>
<rect x="657.06" y="590.1" width="5.8" height="49.9"/>
<rect x="664.25" y="624.9" width="5.8" height="15.1"/>
<rect x="671.44" y="625.6" width="5.8" height="14.4"/>
<rect x="678.62" y="619.3" width="5.8" height="20.7"/>
<rect x="685.81" y="620.6" width="5.8" height="19.4"/>
<rect x="700.19" y="618.0" width="5.8" height="22.0"/>
<rect x="707.38" y="616.2" width="5.8" height="23.8"/>
<rect x="714.56" y="626.4" width="5.8" height="13.6"/>
<rect x="721.75" y="622.3" width="5.8" height="17.7"/>
<rect x="728.94" y="587.6" width="5.8" height="52.4"/>
<rect x="736.13" y="626.1" width="5.8" height="13.9"/>
<rect x="750.50" y="619.3" width="5.8" height="20.7"/>
<rect x="757.69" y="623.9" width="5.8" height="16.1"/>
<rect x="772.07" y="628.2" width="5.8" height="11.8"/>
<rect x="779.26" y="626.4" width="5.8" height="13.6"/>
<rect x="786.44" y="630.0" width="5.8" height="10.0"/>
<rect x="800.82" y="592.7" width="5.8" height="47.3"/>
<rect x="808.01" y="630.0" width="5.8" height="10.0"/>
<rect x="815.20" y="630.0" width="5.8" height="10.0"/>
<rect x="829.57" y="625.6" width="5.8" height="14.4"/>
<rect x="836.76" y="629.5" width="5.8" height="10.5"/>
<rect x="851.14" y="623.9" width="5.8" height="16.1"/>
<rect x="872.70" y="630.0" width="5.8" height="10.0"/>
<rect x="879.89" y="622.3" width="5.8" height="17.7"/>
<rect x="887.08" y="617.5" width="5.8" height="22.5"/>
<rect x="894.26" y="597.2" width="5.8" height="42.8"/>
<rect x="901.45" y="629.4" width="5.8" height="10.6"/>
<rect x="908.64" y="628.7" width="5.8" height="11.3"/>
<rect x="915.83" y="618.0" width="5.8" height="22.0"/>
<rect x="923.02" y="625.1" width="5.8" height="14.9"/>
<rect x="937.39" y="616.0" width="5.8" height="24.0"/>
<rect x="944.58" y="613.0" width="5.8" height="27.0"/>
<rect x="951.77" y="623.0" width="5.8" height="17.0"/>
<rect x="958.96" y="608.6" width="5.8" height="31.4"/>
<rect x="966.14" y="604.6" width="5.8" height="35.4"/>
<rect x="973.33" y="630.0" width="5.8" height="10.0"/>
<rect x="980.52" y="629.4" width="5.8" height="10.6"/>
<rect x="1016.46" y="620.5" width="5.8" height="19.5"/>
<rect x="1023.65" y="614.0" width="5.8" height="26.0"/>
</g>
<path d="M2.35,442.60 L9.60,435.80 L16.84,418.00 L24.09,405.30 L31.34,388.40 L38.58,401.50 L45.83,380.50 L53.07,382.50 L60.32,377.00 L67.56,385.80 L74.80,422.80 L82.05,349.00 L89.30,350.30 L96.54,358.00 L103.78,361.50 L111.03,337.00 L118.27,338.20 L125.52,315.00 L132.77,240.80 L140.01,246.20 L147.25,258.50 L154.50,292.40 L161.75,308.00 L168.99,324.50 L176.23,384.00 L183.48,377.50 L190.72,370.40 L197.97,363.50 L205.22,341.50 L212.46,357.70 L219.70,282.00 L226.95,220.50 L234.19,184.80 L241.44,211.00 L248.69,239.70 L255.93,234.60 L263.18,278.50 L270.42,255.00 L277.67,232.50 L284.91,234.20 L292.16,230.60 L299.40,231.00 L306.65,212.50 L313.89,226.60 L321.14,274.80 L328.38,278.00 L335.62,254.50 L342.87,281.50 L350.12,248.00 L357.36,250.80 L364.61,275.70 L371.85,277.60 L379.10,256.00 L386.34,298.50 L393.59,255.00 L400.83,276.00 L408.08,286.00 L415.32,292.20 L422.57,348.50 L429.81,365.00 L437.06,373.50 L444.30,349.60 L451.55,361.30 L458.79,333.70 L466.04,338.80 L473.28,310.00 L480.53,321.00 L487.77,316.50 L495.02,312.10 L502.26,322.20 L509.51,347.00 L516.75,326.00 L524.00,295.60 L531.24,271.50 L538.49,283.00 L545.73,276.00 L552.98,248.50 L560.22,257.80 L567.47,277.50 L574.71,241.50 L581.96,225.10 L589.20,201.00 L596.45,177.50 L603.69,177.50 L610.94,145.20 L618.18,173.50 L625.43,190.30 L632.67,215.00 L639.92,190.00 L647.16,168.50 L654.41,192.10 L661.65,238.50 L668.89,229.60 L676.14,228.40 L683.38,207.00 L690.63,231.40 L697.88,235.20 L705.12,231.90 L712.37,255.50 L719.61,235.50 L726.86,266.60 L734.10,276.00 L741.35,263.90 L748.59,261.60 L755.84,265.90 L763.08,276.50 L770.33,268.80 L777.57,293.80 L784.82,295.80 L792.06,293.30 L799.31,281.00 L806.55,268.80 L813.80,271.70 L821.04,297.50 L828.29,285.60 L835.53,295.10 L842.78,298.20 L850.02,304.00 L857.26,291.80 L864.51,287.80 L871.75,287.50 L879.00,290.50 L886.25,301.40 L893.49,310.80 L900.74,336.80 L907.98,329.30 L915.23,321.00 L922.47,338.00 L929.72,312.00 L936.96,312.40 L944.21,359.80 L951.45,376.00 L958.70,362.40 L965.94,359.30 L973.19,364.50 L980.43,360.00 L987.68,379.00 L994.92,370.70 L1002.17,349.50 L1009.41,370.00 L1016.66,379.40 L1023.90,404.20 L1031.14,420.00" fill="none" stroke="#6ac181" stroke-width="2.7" stroke-linejoin="miter" stroke-miterlimit="10"/>
<g fill="#1f2838" font-weight="bold" font-size="16" text-anchor="end">
<text x="1001.4" y="207.4">204.00</text>
<text x="1001.4" y="277.6">202.00</text>
<text x="1001.4" y="347.9">200.00</text>
</g>
<text x="1001.4" y="410.7" font-size="15.7" fill="#939b95" stroke="#939b95" stroke-width="0.35" text-anchor="end">100,000</text>
<text x="1001.4" y="418" font-size="16" font-weight="bold" fill="#1f2838" text-anchor="end">198.00</text>
<text x="1001.4" y="530.6" font-size="15.7" fill="#878f89" stroke="#878f89" stroke-width="0.35" text-anchor="end">50,000</text>
<g fill="#1f2838" font-weight="bold" font-size="15.6" text-anchor="middle">
<text x="97" y="503.5">12:00</text>
<text x="358" y="503.5">18:00</text>
<text x="618.5" y="503.5">00:00</text>
<text x="879.5" y="503.5">06:00</text>
</g>
<g fill="#1f2838">
<rect x="95.5" y="472.3" width="2" height="1.3"/><rect x="356.5" y="472.3" width="2" height="1.3"/><rect x="617.5" y="472.3" width="2" height="1.3"/><rect x="878.5" y="472.3" width="2" height="1.3"/>
</g>
<!-- logo -->
<g fill="#0a0a0a" stroke="#0a0a0a">
<path d="M842.9,36.1 L824.6,36.1 L824.6,54.4 L833.7,54.4" fill="none" stroke-width="2.9" stroke-linejoin="round" stroke-linecap="round"/>
<g stroke="none">
<circle cx="824.6" cy="36.1" r="3.25"/><circle cx="833.7" cy="36.1" r="3.25"/><circle cx="842.9" cy="36.1" r="3.25"/>
<circle cx="824.6" cy="45.2" r="3.25"/><circle cx="824.6" cy="54.4" r="3.25"/><circle cx="833.7" cy="54.4" r="3.25"/>
<circle cx="833.7" cy="45.2" r="1.35"/><circle cx="842.9" cy="45.2" r="1.35"/><circle cx="842.9" cy="54.4" r="1.35"/>
</g></g>
<path d="M279,132 L288,117.2 L297,132 Z" fill="#62be77"/>
<path d="M49.3,87.8 L49.3,128.8 L40,128.8 L40,98.8 L32.3,103.9 L27.8,98.4 L41.7,87.8 Z" fill="#0d1828"/>
</g>
</svg>
<div id="leftbar" class="abs"></div>
<div id="pair" class="abs">SOL-USD</div>
<div id="sub" class="abs">24 Hour Chart</div>
<div id="price" class="abs">98.33</div>
<div id="chg" class="abs">0.26%</div>
<div id="pow" class="abs">Powered by</div>
<div id="brand" class="abs">CoinDesk<span style="margin-left:3px">Data</span></div>
<div id="date" class="abs">23 Jul 2025 09:38 (GMT)</div>
<div class="abs stat" style="left:527px;top:92px"><b>197.81</b><span>Open</span></div>
<div class="abs stat" style="left:623px;top:92px"><b>205.54</b><span>High</span></div>
<div class="abs stat" style="left:719px;top:92px"><b>197.13</b><span>Low</span></div>
<div class="abs stat" style="left:815.5px;top:92px"><b>3.03 M</b><span>Vol</span></div>
<div class="abs stat" style="left:912px;top:92px"><b>610.04 M</b><span>Vol USD</span></div>
</body></html>
